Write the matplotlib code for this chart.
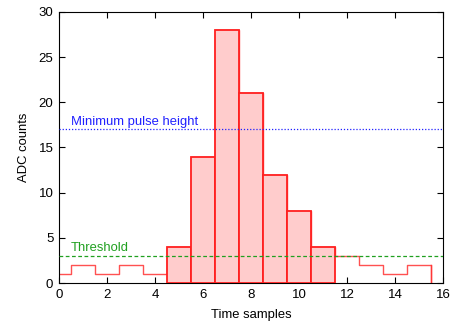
import numpy as np
import matplotlib
matplotlib.use("Agg")
import matplotlib.pyplot as plt

# amostras do pulso
samples = np.arange(16)
adc = [1, 2, 1, 2, 1, 4, 14, 28, 21, 12, 8, 4, 3, 2, 1, 2]
threshold = 3
min_height = 17

plt.rcParams['font.family'] = ['Liberation Sans', 'DejaVu Sans']

fig = plt.figure(figsize=(4.53, 3.22), dpi=100)
ax = fig.add_axes([0.130, 0.121, 0.848, 0.842])

# linha em degraus de todas as amostras
edges = np.append(samples - 0.5, samples[-1] + 0.5)
vals = np.append(adc, 0)
ax.step(edges, vals, where='post', color='#ff3333', lw=1.0, alpha=0.85, zorder=2)
ax.plot([edges[-1], edges[-1]], [adc[-1], 0], color='#ff3333', lw=1.0, alpha=0.85)

# barras acima do limiar
sel = [i for i in samples if adc[i] > threshold]
ax.bar([samples[i] for i in sel], [adc[i] for i in sel], width=1.0,
       facecolor='#ffcccc', edgecolor='#ff2020', lw=1.3, zorder=3)

ax.axhline(min_height, color='#2020ff', ls=(0, (1, 1.5)), lw=0.9, zorder=4)
ax.axhline(threshold, color='#20a020', ls=(0, (3, 2)), lw=0.9, zorder=4)
ax.text(0.5, min_height + 0.45, "Minimum pulse height", color='#2020ff', fontsize=9.4)
ax.text(0.5, threshold + 0.55, "Threshold", color='#20a020', fontsize=9.4)

ax.set_xlim(0, 16)
ax.set_ylim(0, 30)
ax.set_xticks(range(0, 17, 2))
ax.set_yticks(range(0, 31, 5))
ax.tick_params(direction='in', top=True, right=True, labelsize=9.5, length=4, pad=4)
ax.set_xlabel("Time samples", fontsize=9.4, labelpad=6)
ax.set_ylabel("ADC counts", fontsize=9.4, labelpad=6)

fig.savefig("out.png", dpi=100)
